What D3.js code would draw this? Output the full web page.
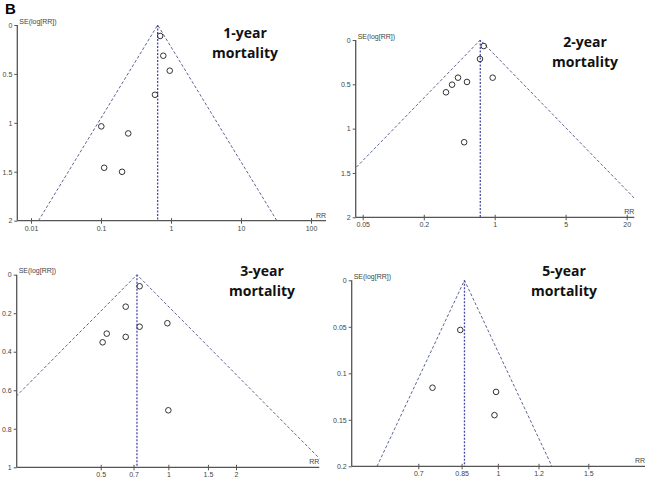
<!DOCTYPE html>
<html>
<head>
<meta charset="utf-8">
<script src="https://cdn.jsdelivr.net/npm/d3@7"></script>
<style>
body { margin: 0; background: #fff; }
text { font-family: "Liberation Sans", Arial, sans-serif; }
</style>
</head>
<body>
<div id="graphDiv"></div>
<script>
// titles of the four funnel plots
var titles = ["1-year", "2-year", "3-year", "5-year"];

// pooled risk ratio (apex of each funnel)
var pooledRR = [0.645, 0.721, 0.725, 0.861];

// studies: risk ratio and SE(log[RR])
var rr1 = [0.70, 0.776, 0.96, 0.59, 0.101, 0.245, 0.111, 0.20];
var se1 = [0.112, 0.314, 0.467, 0.713, 1.036, 1.108, 1.459, 1.50];
var rr2 = [0.78, 0.716, 0.955, 0.435, 0.533, 0.38, 0.331, 0.50];
var se2 = [0.068, 0.214, 0.425, 0.425, 0.473, 0.504, 0.59, 1.153];
var rr3 = [0.745, 0.646, 0.99, 0.745, 0.532, 0.646, 0.51, 1.0];
var se3 = [0.06, 0.166, 0.252, 0.27, 0.306, 0.323, 0.351, 0.704];
var rr4 = [0.845, 0.746, 0.992, 0.985];
var se4 = [0.0534, 0.1155, 0.120, 0.145];

// tick labels
var xTicks1 = [0.01, 0.1, 1, 10, 100];
var xTicks2 = [0.05, 0.2, 1, 5, 20];
var xTicks3 = [0.5, 0.7, 1, 1.5, 2];
var xTicks4 = [0.7, 0.85, 1, 1.2, 1.5];
var yTicks1 = [0, 0.5, 1, 1.5, 2];
var yTicks2 = [0, 0.5, 1, 1.5, 2];
var yTicks3 = [0, 0.2, 0.4, 0.6, 0.8, 1];
var yTicks4 = [0, 0.05, 0.1, 0.15, 0.2];

// layout of each panel (pixel positions on the page)
var layout = [
  {left: 17.3, right: 326, top: 25, bottom: 220.7, x0: 31, x1: 311, tx: 245, ty: 38},
  {left: 355.7, right: 634.3, top: 40, bottom: 217.3, x0: 362.7, x1: 626.7, tx: 585, ty: 47},
  {left: 16.7, right: 319.3, top: 274.7, bottom: 467.3, x0: 100.7, x1: 236, tx: 262, ty: 276},
  {left: 351.7, right: 645, top: 280.3, bottom: 466.3, x0: 418.3, x1: 588.3, tx: 564, ty: 276}
];

var panels = [
  {rr: rr1, se: se1, xt: xTicks1, yt: yTicks1},
  {rr: rr2, se: se2, xt: xTicks2, yt: yTicks2},
  {rr: rr3, se: se3, xt: xTicks3, yt: yTicks3},
  {rr: rr4, se: se4, xt: xTicks4, yt: yTicks4}
];

var svg = d3.select("#graphDiv")
  .append("svg")
  .attr("width", 650)
  .attr("height", 487);

// panel letter
svg.append("text")
  .attr("x", 5)
  .attr("y", 14)
  .style("font-size", "15px")
  .style("font-weight", "bold")
  .text("B");

var axisColor = "#555";

panels.forEach(function(p, i) {
  var L = layout[i];
  var g = svg.append("g");

  var x = d3.scaleLog()
    .domain([p.xt[0], p.xt[p.xt.length - 1]])
    .range([L.x0, L.x1]);

  var y = d3.scaleLinear()
    .domain([p.yt[0], p.yt[p.yt.length - 1]])
    .range([L.top, L.bottom]);

  // clip for funnel lines
  g.append("clipPath")
    .attr("id", "clip" + i)
    .append("rect")
    .attr("x", L.left)
    .attr("y", L.top - 2)
    .attr("width", L.right - L.left)
    .attr("height", L.bottom - L.top + 2);

  var seMax = p.yt[p.yt.length - 1];
  var pooled = pooledRR[i];
  var funnel = [
    [pooled * Math.exp(-1.96 * seMax), seMax],
    [pooled, 0],
    [pooled * Math.exp(1.96 * seMax), seMax]
  ];

  g.append("path")
    .datum(funnel)
    .attr("clip-path", "url(#clip" + i + ")")
    .attr("fill", "none")
    .attr("stroke", "#5d6690")
    .attr("stroke-width", 1)
    .attr("stroke-dasharray", "3,2")
    .attr("d", d3.line()
      .x(function(d) { return x(d[0]); })
      .y(function(d) { return y(d[1]); }));

  // pooled estimate line
  g.append("line")
    .attr("x1", x(pooled))
    .attr("x2", x(pooled))
    .attr("y1", y(0))
    .attr("y2", y(seMax))
    .attr("stroke", "#4b4ba6")
    .attr("stroke-width", 1.3)
    .attr("stroke-dasharray", "2,1.5");

  // X axis
  var xa = g.append("g")
    .attr("transform", "translate(0," + L.bottom + ")")
    .call(d3.axisBottom(x).tickValues(p.xt).tickSize(3).tickPadding(2)
      .tickFormat(function(d) { return d; }));
  xa.select(".domain").remove();
  xa.selectAll("line").attr("y1", -2.5).attr("stroke", axisColor);
  xa.selectAll("text").style("font-size", "7px").attr("fill", "#444")
    .style("font-family", "'Liberation Sans', Arial, sans-serif");

  // Y axis
  var ya = g.append("g")
    .attr("transform", "translate(" + L.left + ",0)")
    .call(d3.axisLeft(y).tickValues(p.yt).tickSize(3).tickPadding(2)
      .tickFormat(function(d) { return d; }));
  ya.select(".domain").remove();
  ya.selectAll("line").attr("stroke", axisColor);
  ya.selectAll("text").style("font-size", "7px").attr("fill", "#444")
    .style("font-family", "'Liberation Sans', Arial, sans-serif");

  // axis lines
  g.append("line")
    .attr("x1", L.left).attr("x2", L.right)
    .attr("y1", L.bottom).attr("y2", L.bottom)
    .attr("stroke", axisColor).attr("stroke-width", 1.3);
  g.append("line")
    .attr("x1", L.left).attr("x2", L.left)
    .attr("y1", L.top).attr("y2", L.bottom)
    .attr("stroke", axisColor).attr("stroke-width", 1.3);

  g.append("text")
    .attr("x", L.left + 2)
    .attr("y", L.top - 1.5)
    .style("font-size", "7px")
    .attr("fill", "#444")
    .text("SE(log[RR])");

  g.append("text")
    .attr("x", L.right)
    .attr("y", L.bottom - 3)
    .attr("text-anchor", "end")
    .style("font-size", "7px")
    .attr("fill", "#444")
    .text("RR");

  // studies
  g.selectAll("circle")
    .data(p.rr)
    .enter()
    .append("circle")
    .attr("cx", function(d) { return x(d); })
    .attr("cy", function(d, j) { return y(p.se[j]); })
    .attr("r", 2.8)
    .attr("fill", "none")
    .attr("stroke", "#333")
    .attr("stroke-width", 1);

  // title
  var t = g.append("text")
    .attr("x", L.tx)
    .attr("y", L.ty)
    .attr("text-anchor", "middle")
    .style("font-family", "'Open Sans', sans-serif")
    .style("font-size", "14px")
    .style("font-weight", "bold")
    .attr("fill", "#111");
  t.append("tspan").attr("x", L.tx).attr("dy", 0).text(titles[i]);
  t.append("tspan").attr("x", L.tx).attr("dy", 20).text("mortality");
});
</script>
</body>
</html>
